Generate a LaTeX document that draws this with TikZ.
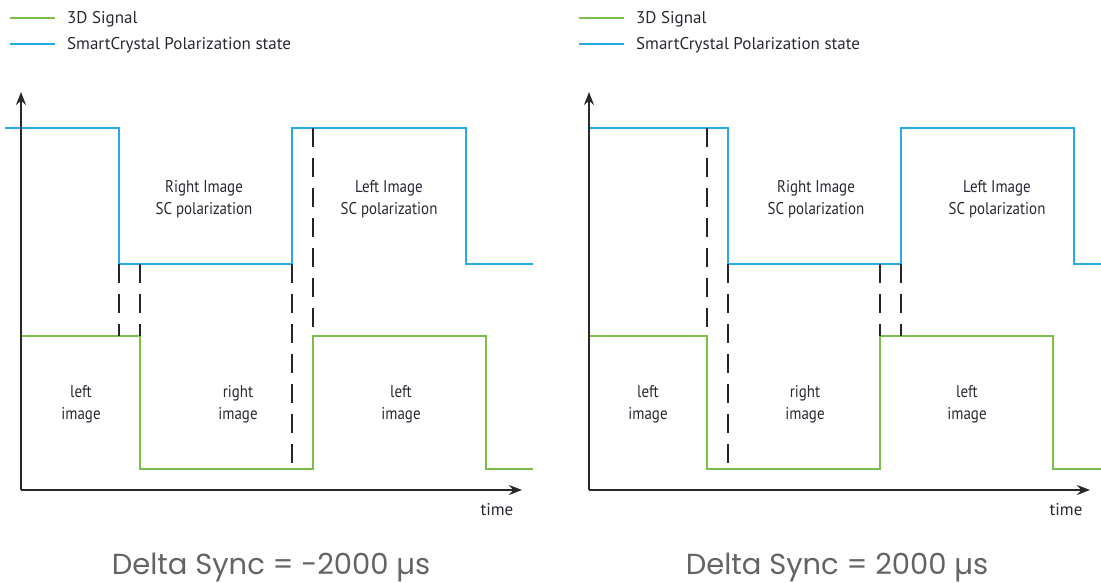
\documentclass[tikz,border=0pt]{standalone}
\usepackage{fontspec}
\setmainfont{PT Sans}
\newfontfamily\gothic{Poppins}
\newfontfamily\narrowsans[FakeStretch=0.88]{PT Sans}
\usetikzlibrary{arrows.meta}
\definecolor{sgreen}{RGB}{122,190,72}
\definecolor{sblue}{RGB}{40,170,226}
\definecolor{txt}{RGB}{40,40,50}
\definecolor{axisc}{RGB}{40,40,40}
\definecolor{capc}{RGB}{100,100,100}
\begin{document}
\begin{tikzpicture}[x=1pt,y=-1pt,
  greenwave/.style={draw=sgreen,line width=1.6pt},
  bluewave/.style={draw=sblue,line width=1.6pt},
  axisline/.style={draw=axisc,line width=1.8pt,-{Stealth[length=13pt,width=10pt]}},
  syncline/.style={draw=black!85,line width=1.7pt,dash pattern=on 19pt off 11pt},
  lbl/.style={text=txt,font=\narrowsans\fontsize{17}{22}\selectfont,align=center,inner sep=0pt},
  legtxt/.style={text=txt,font=\fontsize{17}{18}\selectfont,anchor=west,inner sep=0pt},
  timetxt/.style={text=txt,font=\fontsize{17}{18}\selectfont,inner sep=0pt},
  caption/.style={text=capc,font=\gothic\fontsize{29}{32}\selectfont,inner sep=0pt}]
\useasboundingbox (0,0) rectangle (1101,583);

% ---------- legends ----------
\foreach \ox/\n in {0/L,569/R}{
  \begin{scope}[xshift=\ox]
    \coordinate (g1\n) at (10,18); \coordinate (g2\n) at (55,18);
    \coordinate (b1\n) at (10,44); \coordinate (b2\n) at (55,44);
    \draw[greenwave,line width=1.3pt] (g1\n) -- (g2\n);
    \draw[bluewave,line width=1.3pt] (b1\n) -- (b2\n);
    \node[legtxt] (lg\n) at (67,19) {3D Signal};
    \node[legtxt] (lb\n) at (67,45) {SmartCrystal Polarization state};
  \end{scope}
}

% ---------- left panel ----------
\coordinate (oL) at (21,490);
\coordinate (yL) at (21,92);
\coordinate (xL) at (522,490);
\draw[bluewave] (5,128) -- (119,128) -- (119,264) -- (292,264) -- (292,128) -- (466,128) -- (466,264) -- (533,264);
\draw[greenwave] (21,336) -- (140,336) -- (140,469) -- (313,469) -- (313,336) -- (486,336) -- (486,469) -- (533,469);
\draw[syncline] (119,264) -- (119,336);
\draw[syncline] (140,264) -- (140,336);
\draw[syncline] (292,264) -- (292,469);
\draw[syncline] (313,128) -- (313,336);
\draw[axisline] (oL) -- (yL);
\draw[axisline] (oL) -- (xL);
\node[timetxt] (tL) at (497,510) {time};
\node[lbl] (rsL) at (204,199) {Right Image\\SC polarization};
\node[lbl] (lsL) at (389,199) {Left Image\\SC polarization};
\node[lbl] (li1L) at (81,404) {left\\image};
\node[lbl] (riL) at (238,404) {right\\image};
\node[lbl] (li2L) at (401,404) {left\\image};
\node[caption] (cL) at (271,568) {Delta Sync = -2000 µs};

% ---------- right panel ----------
\coordinate (oR) at (589,490);
\coordinate (yR) at (589,92);
\coordinate (xR) at (1090,490);
\draw[bluewave] (589,128) -- (728,128) -- (728,264) -- (901,264) -- (901,128) -- (1074,128) -- (1074,264) -- (1101,264);
\draw[greenwave] (589,336) -- (707,336) -- (707,469) -- (880,469) -- (880,336) -- (1053,336) -- (1053,469) -- (1101,469);
\draw[syncline] (707,128) -- (707,336);
\draw[syncline] (728,264) -- (728,469);
\draw[syncline] (880,264) -- (880,336);
\draw[syncline] (901,264) -- (901,336);
\draw[axisline] (oR) -- (yR);
\draw[axisline] (oR) -- (xR);
\node[timetxt] (tR) at (1066,510) {time};
\node[lbl] (rsR) at (816,199) {Right Image\\SC polarization};
\node[lbl] (lsR) at (997,199) {Left Image\\SC polarization};
\node[lbl] (li1R) at (648,404) {left\\image};
\node[lbl] (riR) at (805,404) {right\\image};
\node[lbl] (li2R) at (967,404) {left\\image};
\node[caption] (cR) at (837,568) {Delta Sync = 2000 µs};
\end{tikzpicture}
\end{document}
